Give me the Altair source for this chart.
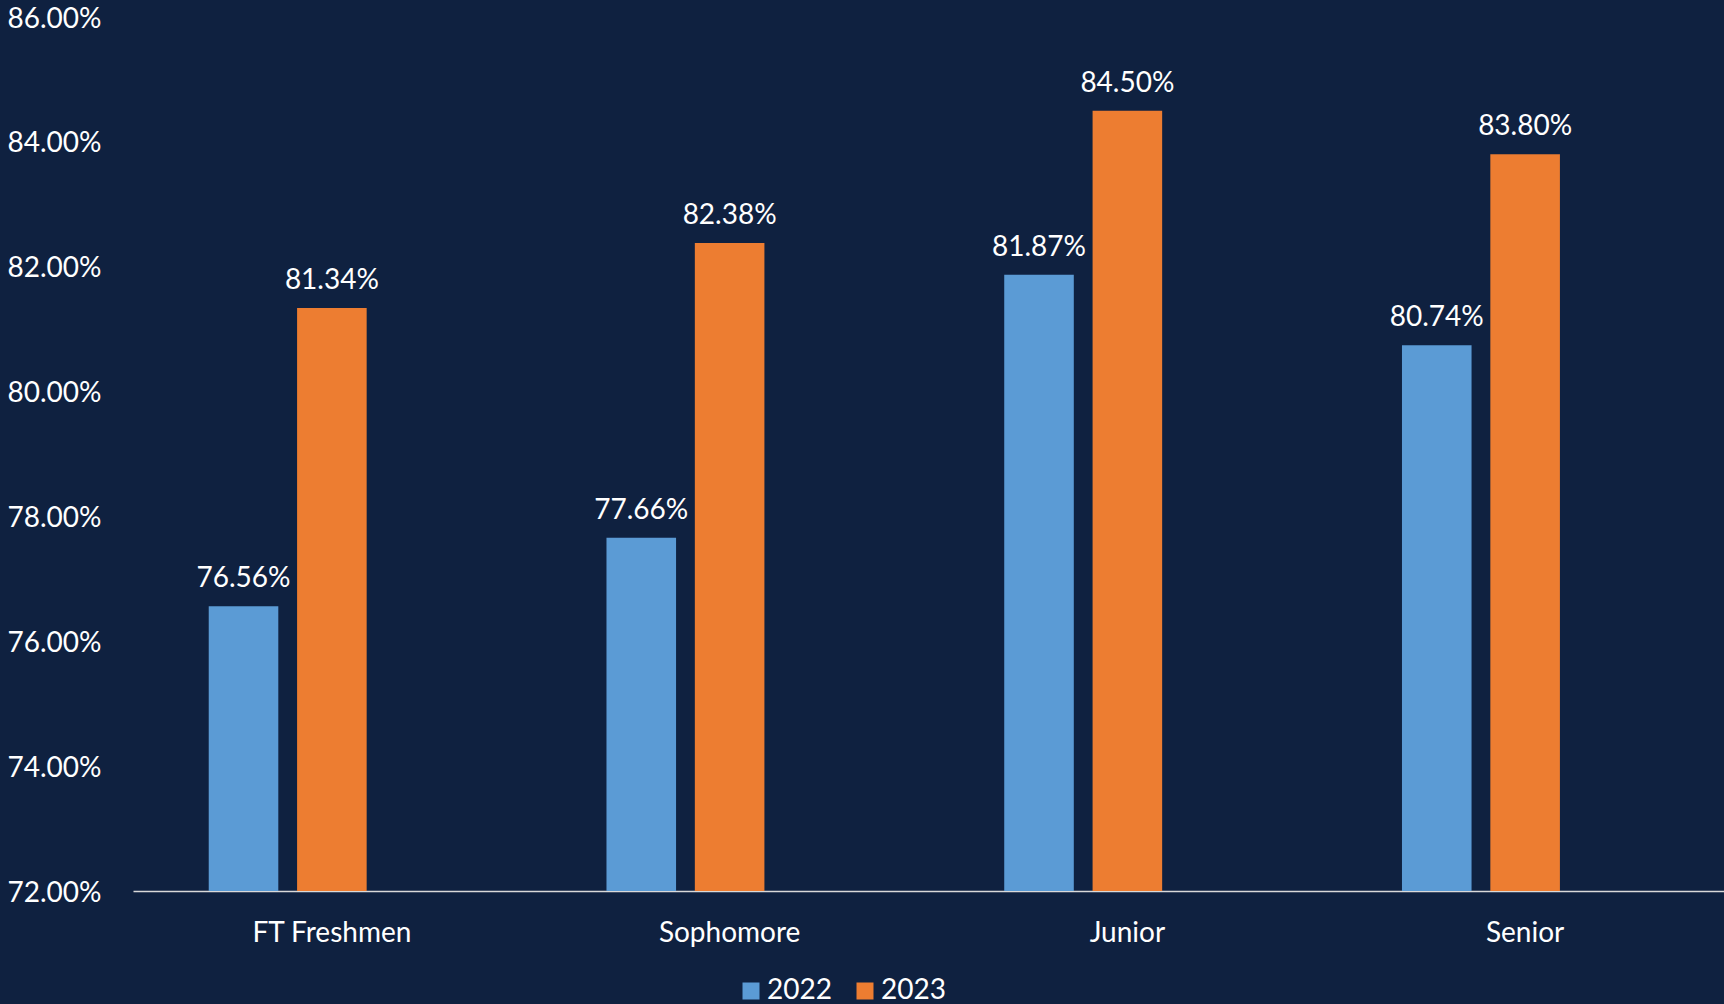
import altair as alt
import pandas as pd

categories = ["FT Freshmen", "Sophomore", "Junior", "Senior"]
years = ["2022", "2023"]
values_2022 = [76.56, 77.66, 81.87, 80.74]
values_2023 = [81.34, 82.38, 84.50, 83.80]
y_ticks = [72, 74, 76, 78, 80, 82, 84, 86]

rows = []
for c, v in zip(categories, values_2022):
    rows.append({"category": c, "year": "2022", "value": v / 100})
for c, v in zip(categories, values_2023):
    rows.append({"category": c, "year": "2023", "value": v / 100})
df = pd.DataFrame(rows)

FONT = "Lato"
BG = "#0F2140"

x = alt.X("category:N", sort=categories, title=None,
          scale=alt.Scale(paddingInner=0, paddingOuter=0),
          axis=alt.Axis(labelAngle=0, labelColor="white", labelFontSize=28,
                        labelFont=FONT, ticks=False, labelPadding=28,
                        domainColor="#D9D9D9", domainWidth=1.5))
xo = alt.XOffset("year:N", scale=alt.Scale(domain=["2022", "2023", "_"],
                                           paddingInner=0.2125, paddingOuter=0.857))
y = alt.Y("value:Q", title=None,
          scale=alt.Scale(domain=[0.72, 0.86], zero=False, nice=False),
          axis=alt.Axis(values=[t / 100 for t in y_ticks], format=".2%",
                        labelColor="white", labelFontSize=28, labelFont=FONT,
                        ticks=False, domain=False, grid=False, labelPadding=32,
                        labelOffset=2))

color = alt.Color("year:N", scale=alt.Scale(domain=years, range=["#5B9BD5", "#ED7D31"]),
                  legend=alt.Legend(title=None, orient="none", direction="horizontal",
                                    legendX=604, legendY=960, symbolType="square",
                                    symbolSize=289, symbolStrokeWidth=0,
                                    labelFontSize=28, labelFont=FONT, labelColor="white",
                                    labelOffset=2, columnPadding=19, padding=0))

base = alt.Chart(df)
bars = base.mark_bar().encode(x=x, xOffset=xo, y=y, y2=alt.datum(0.72), color=color)
labels = base.mark_text(baseline="alphabetic", dy=-19, fontSize=28, font=FONT,
                        color="white").encode(
    x=x, xOffset=xo, y=y, text=alt.Text("value:Q", format=".2%"))

chart = (bars + labels).properties(
    width=1591, height=874, background=BG,
    autosize=alt.AutoSizeParams(type="none"),
    padding={"left": 133, "top": 17, "right": 0, "bottom": 113},
).configure_view(stroke=None)

chart.save("out.html", embed_options={"renderer": "svg", "actions": False})
